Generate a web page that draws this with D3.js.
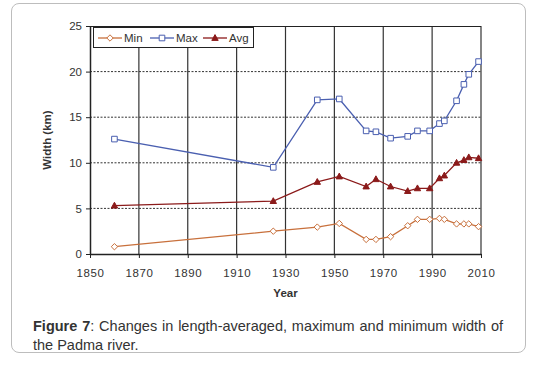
<!DOCTYPE html>
<html>
<head>
<meta charset="utf-8">
<script src="https://cdn.jsdelivr.net/npm/d3@7"></script>
<style>
  body { margin: 0; background: #fff; font-family: "Liberation Sans", Arial, sans-serif; }
  .card {
    position: absolute; left: 11px; top: 3px; width: 515px; height: 350px;
    border: 1px solid #bdbdbd; border-radius: 8px; box-sizing: border-box;
  }
  .caption {
    position: absolute; left: 33px; top: 317px; width: 470px;
    font-size: 14.5px; line-height: 19px; color: #333; text-align: justify;
  }
  svg { position: absolute; left: 0; top: 0; }
</style>
</head>
<body>
<div class="card"></div>
<svg id="chart" width="534" height="366"></svg>
<div class="caption"><b>Figure 7</b>: Changes in length-averaged, maximum and minimum width of the Padma river.</div>
<script>
const years = [1860, 1925, 1943, 1952, 1963, 1967, 1973, 1980, 1984, 1989, 1993, 1995, 2000, 2003, 2005, 2009];
const minWidth = [0.8, 2.5, 2.95, 3.35, 1.6, 1.6, 1.9, 3.1, 3.8, 3.8, 3.9, 3.8, 3.3, 3.3, 3.3, 3.0];
const maxWidth = [12.6, 9.5, 16.9, 17.0, 13.5, 13.4, 12.7, 12.9, 13.5, 13.5, 14.3, 14.6, 16.8, 18.6, 19.7, 21.1];
const avgWidth = [5.3, 5.8, 7.9, 8.5, 7.4, 8.2, 7.4, 6.9, 7.2, 7.2, 8.3, 8.6, 10.0, 10.3, 10.6, 10.5];
const xTicks = d3.range(1850, 2011, 20);
const yTicks = [0, 5, 10, 15, 20, 25];

const series = [
  {name: "Min", values: minWidth, color: "#c8703c", marker: "diamond"},
  {name: "Max", values: maxWidth, color: "#4a5fb0", marker: "square"},
  {name: "Avg", values: avgWidth, color: "#8b1a1a", marker: "triangle"}
];

const svg = d3.select("#chart");
const plotLeft = 90, plotRight = 481, plotTop = 26, plotBottom = 254;

const x = d3.scaleLinear([1850, 2010], [plotLeft, plotRight]);
const y = d3.scaleLinear([0, 25], [plotBottom, plotTop]);

// dotted horizontal gridlines
svg.append("g")
  .selectAll("line")
  .data(yTicks.filter(d => d > 0 && d < 25))
  .join("line")
  .attr("x1", plotLeft).attr("x2", plotRight)
  .attr("y1", d => y(d)).attr("y2", d => y(d))
  .attr("stroke", "#333")
  .attr("stroke-width", 1)
  .attr("stroke-dasharray", "2,1.5");

// solid vertical gridlines
svg.append("g")
  .selectAll("line")
  .data(xTicks.filter(d => d > 1850))
  .join("line")
  .attr("x1", d => x(d)).attr("x2", d => x(d))
  .attr("y1", plotTop).attr("y2", plotBottom)
  .attr("stroke", "#333")
  .attr("stroke-width", 1.2);

// top frame
svg.append("line")
  .attr("x1", plotLeft).attr("x2", plotRight)
  .attr("y1", plotTop + 0.5).attr("y2", plotTop + 0.5)
  .attr("stroke", "#222").attr("stroke-width", 1.2);

// axes
const xAxis = svg.append("g")
  .attr("transform", `translate(0,${plotBottom})`)
  .call(d3.axisBottom(x).tickValues(xTicks).tickFormat(d3.format("d")).tickSize(4).tickSizeOuter(0));
const yAxis = svg.append("g")
  .attr("transform", `translate(${plotLeft},0)`)
  .call(d3.axisLeft(y).tickValues(yTicks).tickSize(4).tickSizeOuter(0));

[xAxis, yAxis].forEach(g => {
  g.select(".domain").attr("stroke", "#222").attr("stroke-width", 1.5);
  g.selectAll(".tick line").attr("stroke", "#222");
  g.selectAll(".tick text")
    .attr("fill", "#333")
    .style("font-family", "'Liberation Sans', Arial, sans-serif")
    .style("font-size", "11.5px");
});
xAxis.selectAll(".tick text").attr("dy", "1.35em").style("letter-spacing", "0.6px");
yAxis.selectAll(".tick text").attr("x", -8);

svg.append("text")
  .attr("x", (plotLeft + plotRight) / 2).attr("y", 297)
  .attr("text-anchor", "middle")
  .attr("font-weight", "bold").attr("font-size", 11.5).attr("fill", "#333")
  .text("Year");

svg.append("text")
  .attr("transform", `translate(51,${(plotTop + plotBottom) / 2}) rotate(-90)`)
  .attr("text-anchor", "middle")
  .attr("font-weight", "bold").attr("font-size", 11.5).attr("fill", "#333")
  .text("Width (km)");

const markerPath = (type, cx, cy) => {
  if (type === "diamond") return `M${cx},${cy - 3.2}L${cx + 3.2},${cy}L${cx},${cy + 3.2}L${cx - 3.2},${cy}Z`;
  if (type === "square") return `M${cx - 2.8},${cy - 2.8}h5.6v5.6h-5.6Z`;
  return `M${cx},${cy - 3.4}L${cx + 3.2},${cy + 2.4}L${cx - 3.2},${cy + 2.4}Z`;
};

const line = d3.line().x(d => x(d[0])).y(d => y(d[1]));

series.forEach(s => {
  const pts = years.map((yr, i) => [yr, s.values[i]]);
  const g = svg.append("g");
  g.append("path")
    .attr("d", line(pts))
    .attr("fill", "none")
    .attr("stroke", s.color)
    .attr("stroke-width", 1.3);
  g.selectAll("path.m")
    .data(pts)
    .join("path")
    .attr("class", "m")
    .attr("d", d => markerPath(s.marker, x(d[0]), y(d[1])))
    .attr("fill", s.marker === "triangle" ? s.color : "#fff")
    .attr("stroke", s.color)
    .attr("stroke-width", 1);
});

// legend
const lg = svg.append("g");
lg.append("rect")
  .attr("x", 93.5).attr("y", 27.5).attr("width", 160).attr("height", 20)
  .attr("fill", "#fff").attr("stroke", "#222").attr("stroke-width", 1);
const legendX = [98, 150, 203];
series.forEach((s, i) => {
  const lx = legendX[i];
  lg.append("line")
    .attr("x1", lx).attr("x2", lx + 24)
    .attr("y1", 38).attr("y2", 38)
    .attr("stroke", s.color).attr("stroke-width", 1.3);
  lg.append("path")
    .attr("d", markerPath(s.marker, lx + 12, 38))
    .attr("fill", s.marker === "triangle" ? s.color : "#fff")
    .attr("stroke", s.color);
  lg.append("text")
    .attr("x", lx + 26).attr("y", 42)
    .attr("font-size", 11.5).attr("fill", "#333")
    .text(s.name);
});
</script>
</body>
</html>
